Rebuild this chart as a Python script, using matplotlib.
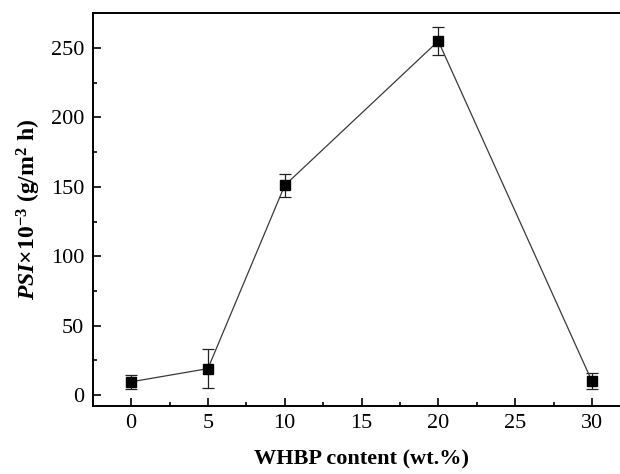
import matplotlib
matplotlib.use("Agg")
import matplotlib.pyplot as plt
from matplotlib.ticker import MultipleLocator

# WHBP content (wt.%) and PSI values with error bars
whbp = [0, 5, 10, 20, 30]
psi = [9.5, 19, 151, 255, 10]
psi_err = [5, 14, 8, 10, 6]

x_label = "WHBP content (wt.%)"
y_label = r"$\mathit{PSI}$$\times$10$^{-3}$ (g/m$^{2}$ h)"

plt.rcParams['font.family'] = ['Liberation Serif', 'DejaVu Serif']
plt.rcParams['mathtext.fontset'] = 'custom'
plt.rcParams['mathtext.rm'] = 'Liberation Serif:bold'
plt.rcParams['mathtext.it'] = 'Liberation Serif:italic:bold'
plt.rcParams['mathtext.bf'] = 'Liberation Serif:bold'

fig = plt.figure(figsize=(6.2, 4.74), dpi=100)
# axes runs past the right edge of the figure (reference is cropped there)
ax = fig.add_axes([92.7 / 620, 1 - 405.7 / 474, 537.6 / 620, (405.7 - 13.3) / 474])

ax.errorbar(whbp, psi, yerr=psi_err, color='#3a3a3a', linewidth=0.9,
            marker='s', markersize=7, markerfacecolor='black', markeredgecolor='black',
            ecolor='#222222', elinewidth=0.9, capsize=4, capthick=0.9)

ax.set_xlim(-2.5, 32.5)
ax.set_ylim(-7.7, 275)
ax.xaxis.set_major_locator(MultipleLocator(5))
ax.xaxis.set_minor_locator(MultipleLocator(2.5))
ax.yaxis.set_major_locator(MultipleLocator(50))
ax.yaxis.set_minor_locator(MultipleLocator(25))

ax.tick_params(which='both', direction='in', labelsize=16, colors='black', width=1.2)
ax.tick_params(which='major', length=6, pad=6)
ax.tick_params(which='minor', length=3)
ax.tick_params(axis='x', which='both', top=False)
ax.tick_params(axis='y', which='both', right=False)
for sp in ax.spines.values():
    sp.set_linewidth(1.4)
ax.spines['right'].set_visible(False)

ax.set_xlabel(x_label, fontsize=16, fontweight='bold', labelpad=12)
ax.set_ylabel(y_label, fontsize=17, fontweight='bold', labelpad=6)

fig.savefig('out.png', dpi=100, facecolor='white')
